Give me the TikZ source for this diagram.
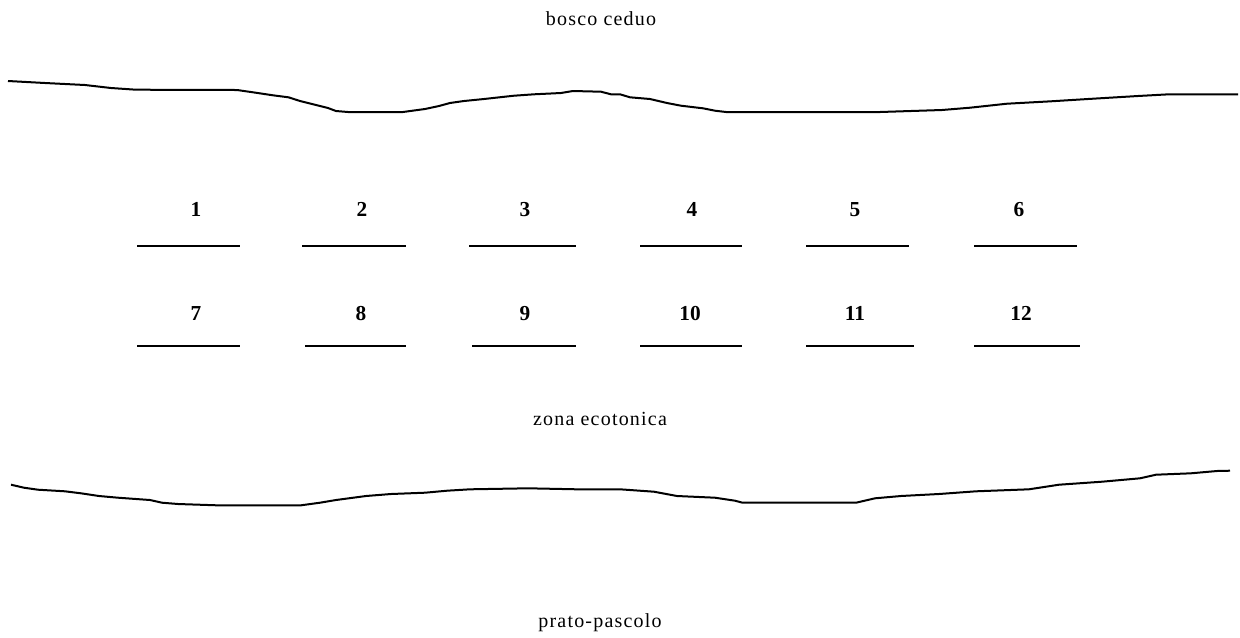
\documentclass[tikz,border=0pt]{standalone}
\usepackage{fontspec}
\setmainfont{Liberation Serif}
\begin{document}
\begin{tikzpicture}[x=0.75pt,y=-0.75pt,
  edge/.style={line width=1.5pt, line join=round},
  bar/.style={line width=1.5pt},
  num/.style={font=\fontsize{16}{18}\selectfont\bfseries, inner sep=0pt, anchor=base},
  zone/.style={font=\fontsize{15}{17}\selectfont\addfontfeatures{LetterSpace=6}, inner sep=0pt, anchor=base}]
\useasboundingbox (0,0) rectangle (1240,637);
% zone labels
\node[zone] (bosco) at (601,25) {bosco ceduo};
\node[zone] (zona) at (600,425) {zona ecotonica};
\node[zone] (prato) at (600,627) {prato-pascolo};
% upper boundary
\draw[edge] (8,81) -- (45,83) -- (85,85) -- (111,88) -- (136,89.7) -- (237,90) -- (253,92.3) -- (273,95.3) -- (288.5,97.3) -- (300,101) -- (316,105) -- (328,108) -- (336,111) -- (348,112) -- (403,112) -- (425,109) -- (439,106) -- (450,103) -- (464,101) -- (484,99) -- (514,95.7) -- (534,94.3) -- (561,93) -- (573,91) -- (601,91.7) -- (611,94.3) -- (620,94.3) -- (630,97.3) -- (650,99) -- (667,103) -- (681,105.7) -- (703,108.3) -- (715,110.7) -- (726,112) -- (880,112) -- (942,110) -- (970,107.7) -- (1007,103.7) -- (1051,101.3) -- (1088,99) -- (1138,96) -- (1169,94.3) -- (1238,94.3);
% lower boundary
\draw[edge] (11,484.7) -- (24,487.7) -- (38,489.7) -- (65,491.3) -- (81,493.3) -- (99,496) -- (118,497.7) -- (150,500) -- (162,502.7) -- (178,504) -- (217,505.3) -- (301,505.3) -- (320,502.7) -- (336,500) -- (366,496) -- (391,494) -- (425,492.7) -- (447,490.7) -- (470,489.3) -- (528,488.3) -- (577,489.3) -- (620,489.3) -- (654,491.7) -- (677,496) -- (715,497.7) -- (735,500.7) -- (742.5,502.7) -- (856,502.7) -- (875,498.3) -- (901,496) -- (939,494) -- (976,491.3) -- (1029,489.3) -- (1059,484.7) -- (1102,481.7) -- (1140,478.3) -- (1156,474.7) -- (1191,473.3) -- (1217,471) -- (1230,470.7);
% plots, row 1
\node[num] (n1) at (196,216) {1};
\node[num] (n2) at (362,216) {2};
\node[num] (n3) at (525,216) {3};
\node[num] (n4) at (692,216) {4};
\node[num] (n5) at (855,216) {5};
\node[num] (n6) at (1019,216) {6};
\draw[bar] (137,246) -- (240,246);
\draw[bar] (302,246) -- (406,246);
\draw[bar] (469,246) -- (576,246);
\draw[bar] (640,246) -- (742,246);
\draw[bar] (806,246) -- (909,246);
\draw[bar] (974,246) -- (1077,246);
% plots, row 2
\node[num] (n7) at (196,320) {7};
\node[num] (n8) at (361,320) {8};
\node[num] (n9) at (525,320) {9};
\node[num] (n10) at (690,320) {10};
\node[num] (n11) at (855,320) {11};
\node[num] (n12) at (1021,320) {12};
\draw[bar] (137,346) -- (240,346);
\draw[bar] (305,346) -- (406,346);
\draw[bar] (472,346) -- (576,346);
\draw[bar] (640,346) -- (742,346);
\draw[bar] (806,346) -- (914,346);
\draw[bar] (974,346) -- (1080,346);
\end{tikzpicture}
\end{document}
